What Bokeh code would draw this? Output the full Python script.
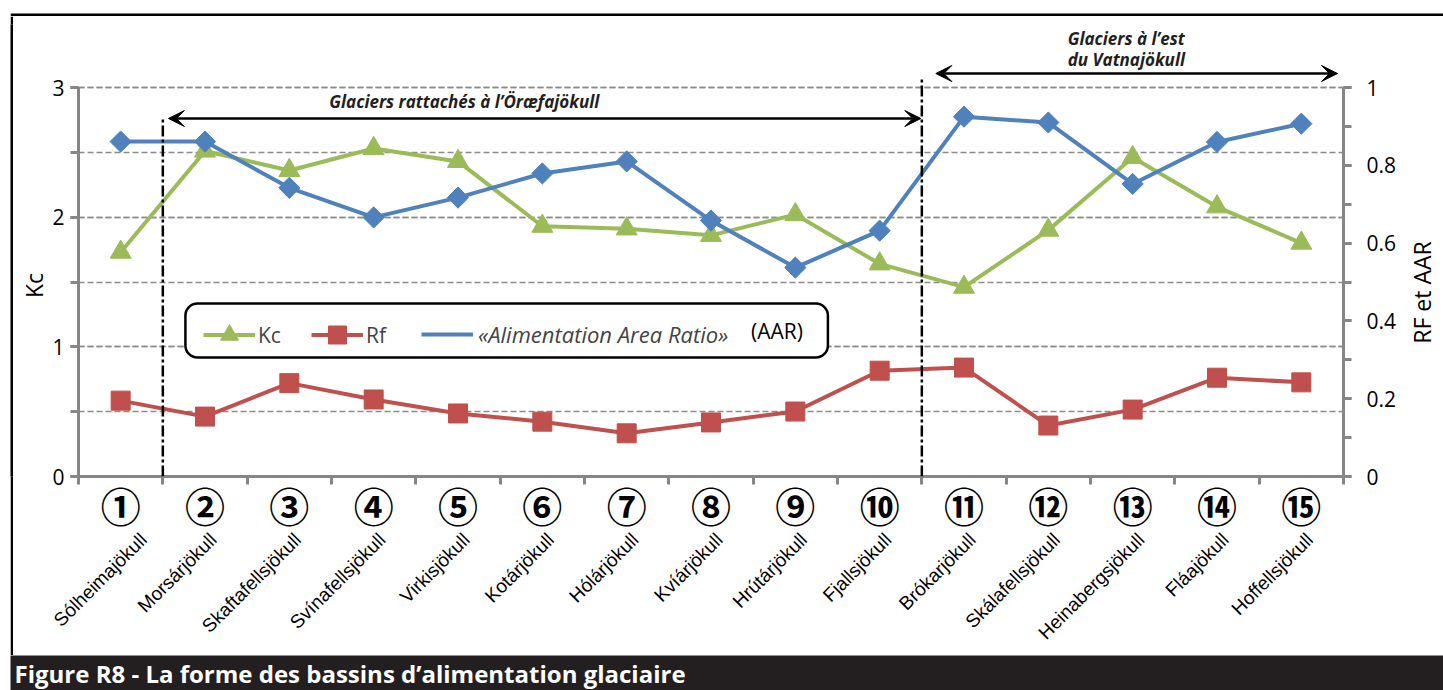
import math
from bokeh.plotting import figure
from bokeh.layouts import column, row
from bokeh.models import (Range1d, LinearAxis, FixedTicker, Grid, Label, Arrow, VeeHead,
                          BoxAnnotation, Legend, LegendItem, Spacer)
from bokeh.embed import file_html
from bokeh.resources import INLINE

# ---------------- data ----------------
numbers = ["①", "②", "③", "④", "⑤", "⑥", "⑦", "⑧", "⑨", "⑩", "⑪", "⑫", "⑬", "⑭", "⑮"]
glaciers = ["Sólheimajökull", "Morsárjökull", "Skaftafellsjökull", "Svínafellsjökull",
            "Virkisjökull", "Kotárjökull", "Hólárjökull", "Kvíárjökull", "Hrútárjökull",
            "Fjallsjökull", "Brókarjökull", "Skálafellsjökull", "Heinabergsjökull",
            "Fláajökull", "Hoffellsjökull"]
kc = [1.73, 2.51, 2.36, 2.53, 2.43, 1.93, 1.91, 1.86, 2.02, 1.64, 1.46, 1.90, 2.46, 2.08, 1.80]
rf = [0.195, 0.154, 0.240, 0.198, 0.162, 0.141, 0.111, 0.139, 0.167, 0.272, 0.280, 0.131,
      0.172, 0.254, 0.242]
aar = [0.861, 0.861, 0.742, 0.666, 0.717, 0.779, 0.810, 0.658, 0.537, 0.632, 0.925, 0.910,
       0.752, 0.860, 0.907]

kc_ticks = [0, 1, 2, 3]
kc_minor = [0, 0.5, 1, 1.5, 2, 2.5, 3]
ratio_ticks = [0, 0.2, 0.4, 0.6, 0.8, 1]
ratio_tick_labels = ["0", "0.2", "0.4", "0.6", "0.8", "1"]
ratio_minor = [0, 0.1, 0.2, 0.3, 0.4, 0.5, 0.6, 0.7, 0.8, 0.9, 1]

series_names = ["Kc", "Rf", "«Alimentation Area Ratio»"]
aar_suffix = "(AAR)"
left_title = "Kc"
right_title = "RF et AAR"
group1_text = "Glaciers rattachés à l’Öræfajökull"
group2_lines = ["Glaciers à l’est", "du Vatnajökull"]
figure_title = "Figure R8 - La forme des bassins d’alimentation glaciaire"

xs = list(range(1, len(glaciers) + 1))

# ---------------- page geometry (page pixels) ----------------
PAGE_W, PAGE_H = 1443, 690
BX, BY, BT = 10, 13, 3            # outer border: left x, top y, thickness
CAP_H = 35                        # caption bar height
MAIN_TOP = BY + BT                # 16
MAIN_H = PAGE_H - CAP_H - MAIN_TOP  # 639
KC_W = 36
RT_W = 38
MAIN_X = BX + BT + KC_W           # 49
MAIN_W = PAGE_W - MAIN_X - RT_W
FL, FR, FT, FB = 77, 1343, 24, 476  # plot frame (page px)
Y0, Y3 = 476, 87                  # page y of Kc = 0 and Kc = 3


def px(x):
    return 0.5 + (x - FL) * 15 / (FR - FL)


def py(y):
    return (Y0 - y) * 3 / (Y0 - Y3)


GREEN = "#9BBB59"
RED = "#C0504D"
BLUE = "#4F81BD"
AXIS = "#868686"
GRID = "#8C8C8C"
DARK = "#231F20"
FONT = "Open Sans"


def blank(width, height, color="white", xr=(0, 1), yr=(0, 1)):
    f = figure(width=width, height=height, output_backend="svg", toolbar_location=None,
               x_range=Range1d(*xr), y_range=Range1d(*yr),
               x_axis_location=None, y_axis_location=None, min_border=0)
    f.xgrid.visible = False
    f.ygrid.visible = False
    f.outline_line_color = None
    f.background_fill_color = color
    f.border_fill_color = color
    return f


# ---------------- main chart ----------------
p = figure(width=MAIN_W, height=MAIN_H, output_backend="svg", toolbar_location=None,
           x_range=Range1d(0.5, 15.5), y_range=Range1d(0, py(FT)),
           x_axis_location=None, y_axis_location=None,
           min_border_left=FL - MAIN_X, min_border_right=MAIN_X + MAIN_W - FR,
           min_border_top=FT - MAIN_TOP, min_border_bottom=MAIN_TOP + MAIN_H - FB)
p.outline_line_color = None
p.xgrid.visible = False
p.ygrid.visible = False
p.background_fill_color = "white"
p.border_fill_color = "white"

p.extra_y_ranges = {"right": Range1d(0, py(FT) / 3)}
p.extra_x_ranges = {"names": Range1d(0.5 - 0.1, 15.5 - 0.1)}

grid = Grid(dimension=1, ticker=FixedTicker(ticks=kc_ticks, minor_ticks=kc_minor),
            grid_line_color=GRID, grid_line_dash="6 3", grid_line_width=1.6,
            minor_grid_line_color=GRID, minor_grid_line_dash="6 3", minor_grid_line_width=1.6)
p.add_layout(grid, "center")


def style_axis(ax):
    ax.axis_line_color = AXIS
    ax.axis_line_width = 3
    ax.major_tick_line_color = AXIS
    ax.major_tick_line_width = 3
    ax.minor_tick_line_color = AXIS
    ax.minor_tick_line_width = 3
    ax.major_tick_in = 0
    ax.minor_tick_in = 0
    ax.major_tick_out = 8
    ax.minor_tick_out = 8
    ax.major_label_text_font = FONT
    ax.major_label_text_font_size = "21px"
    ax.major_label_text_color = "black"


yl = LinearAxis(ticker=FixedTicker(ticks=kc_ticks, minor_ticks=kc_minor), bounds=(0, 3))
style_axis(yl)
yl.major_label_standoff = 6
p.add_layout(yl, "left")

yr = LinearAxis(y_range_name="right",
                ticker=FixedTicker(ticks=ratio_ticks, minor_ticks=ratio_minor), bounds=(0, 1),
                major_label_overrides={t: s for t, s in zip(ratio_ticks, ratio_tick_labels)})
style_axis(yr)
yr.major_label_standoff = 15
p.add_layout(yr, "right")

xa = LinearAxis(ticker=FixedTicker(ticks=xs, minor_ticks=[i + 0.5 for i in range(0, 16)]),
                major_label_overrides={x: n for x, n in zip(xs, numbers)})
style_axis(xa)
xa.major_tick_out = 0
xa.major_tick_line_color = None
xa.major_label_text_font = "Noto Sans CJK JP"
xa.major_label_text_font_style = "bold"
xa.major_label_text_font_size = "40px"
xa.major_label_standoff = -9
p.add_layout(xa, "below")

xn = LinearAxis(x_range_name="names", ticker=FixedTicker(ticks=xs),
                major_label_overrides={x: g for x, g in zip(xs, glaciers)},
                major_label_orientation=math.pi / 4)
xn.axis_line_color = None
xn.major_tick_line_color = None
xn.minor_tick_line_color = None
xn.major_tick_out = 0
xn.major_label_text_font = "Liberation Sans"
xn.major_label_text_font_size = "19px"
xn.major_label_text_color = "black"
xn.major_label_standoff = 0
p.add_layout(xn, "below")

# group separators, arrows and group titles
dash = "11 3 3 3"
p.add_layout(Arrow(x_start=1.5, y_start=0, x_end=1.5, y_end=py(117), start=None, end=None,
                   line_color="black", line_width=2.5, line_dash=dash))
p.add_layout(Arrow(x_start=10.5, y_start=0, x_end=10.5, y_end=py(77), start=None, end=None,
                   line_color="black", line_width=2.5, line_dash=dash))


def head():
    return VeeHead(size=16, fill_color="black", line_color="black", line_width=1)


p.add_layout(Arrow(x_start=px(167), y_start=py(118), x_end=px(920), y_end=py(118),
                   start=head(), end=head(), line_color="black", line_width=2.5))
p.add_layout(Arrow(x_start=px(935), y_start=py(73), x_end=px(1337), y_end=py(73),
                   start=head(), end=head(), line_color="black", line_width=2.5))

ann = dict(text_font=FONT, text_font_style="bold italic", text_font_size="17px",
           text_color=DARK, text_align="left", text_baseline="middle")
p.add_layout(Label(x=px(328), y=py(101), text=group1_text, **ann))
p.add_layout(Label(x=px(1067), y=py(38), text=group2_lines[0], **ann))
p.add_layout(Label(x=px(1067), y=py(59), text=group2_lines[1], **ann))

# series
kc_line = p.line(xs, kc, line_color=GREEN, line_width=4)
kc_pts = p.scatter(xs, kc, marker="triangle", size=21, fill_color=GREEN, line_color=GREEN)
rf_line = p.line(xs, rf, y_range_name="right", line_color=RED, line_width=4)
rf_pts = p.scatter(xs, rf, y_range_name="right", marker="square", size=19,
                   fill_color=RED, line_color=RED)
aar_line = p.line(xs, aar, y_range_name="right", line_color=BLUE, line_width=4)
aar_pts = p.scatter(xs, aar, y_range_name="right", marker="square", angle=math.pi / 4,
                    size=15, fill_color=BLUE, line_color=BLUE)
aar_key = p.scatter(x=[], y=[], y_range_name="right", marker="diamond", size=20,
                    fill_color=BLUE, line_color=BLUE)

# legend: rounded frame + two legends (normal / italic) + suffix
lbox = BoxAnnotation(left=px(184), right=px(827), top=py(303), bottom=py(357),
                     fill_color="white", fill_alpha=1, line_color="black", line_alpha=1,
                     line_width=2.5)
if "border_radius" in BoxAnnotation.properties():
    lbox.border_radius = 12
p.add_layout(lbox)

leg1 = Legend(items=[LegendItem(label=series_names[0], renderers=[kc_line, kc_pts]),
                     LegendItem(label=series_names[1], renderers=[rf_line, rf_pts])],
              orientation="horizontal", location=(202 - FL, Y0 - 357),
              glyph_width=52, glyph_height=45, label_standoff=3, spacing=30,
              padding=5, margin=0, border_line_color=None, background_fill_alpha=0,
              label_text_font=FONT, label_text_font_size="21px")
leg2 = Legend(items=[LegendItem(label=series_names[2], renderers=[aar_line, aar_key])],
              orientation="horizontal", location=(420 - FL, Y0 - 359),
              glyph_width=52, glyph_height=50, label_standoff=5, spacing=0,
              padding=5, margin=0, border_line_color=None, background_fill_alpha=0,
              label_text_font=FONT, label_text_font_style="italic",
              label_text_font_size="22px")
p.add_layout(leg1, "center")
p.add_layout(leg2, "center")
p.add_layout(Label(x=px(750), y=py(330), text=aar_suffix, text_font=FONT,
                   text_font_size="21px", text_color="black", text_align="left",
                   text_baseline="middle"))

# ---------------- side titles (frames aligned with the main frame) ----------------
kc_fig = blank(KC_W, MAIN_H, xr=(MAIN_X - KC_W, MAIN_X), yr=(FB, FT))
kc_fig.add_layout(Label(x=33, y=285, text=left_title, angle=math.pi / 2, text_font=FONT,
                        text_font_size="23px", text_color="black", text_align="center",
                        text_baseline="middle"))

rt_fig = blank(RT_W, MAIN_H, xr=(PAGE_W - RT_W, PAGE_W), yr=(FB, FT))
rt_fig.add_layout(Label(x=1421, y=292, text=right_title, angle=math.pi / 2, text_font=FONT,
                        text_font_size="23px", text_color="black", text_align="center",
                        text_baseline="middle"))

# ---------------- border and caption ----------------
top_strip = blank(PAGE_W - BX, MAIN_TOP, xr=(BX, PAGE_W), yr=(MAIN_TOP, 0))
top_strip.add_layout(BoxAnnotation(left=BX, right=PAGE_W, top=BY, bottom=BY + BT,
                                   fill_color="black", fill_alpha=1, line_color=None))
left_line = blank(BT, MAIN_H, color="black")

cap = blank(PAGE_W - BX, CAP_H, color=DARK, xr=(BX, PAGE_W), yr=(PAGE_H, PAGE_H - CAP_H))
cap.add_layout(Label(x=14, y=673, text=figure_title, text_font=FONT, text_font_style="bold",
                     text_font_size="24px", text_color="white", text_align="left",
                     text_baseline="middle"))

layout = column(
    row(Spacer(width=BX, height=MAIN_TOP), top_strip),
    row(Spacer(width=BX, height=MAIN_H), left_line, kc_fig, p, rt_fig),
    row(Spacer(width=BX, height=CAP_H), cap),
)

open("out.html", "w").write(file_html(layout, INLINE))
